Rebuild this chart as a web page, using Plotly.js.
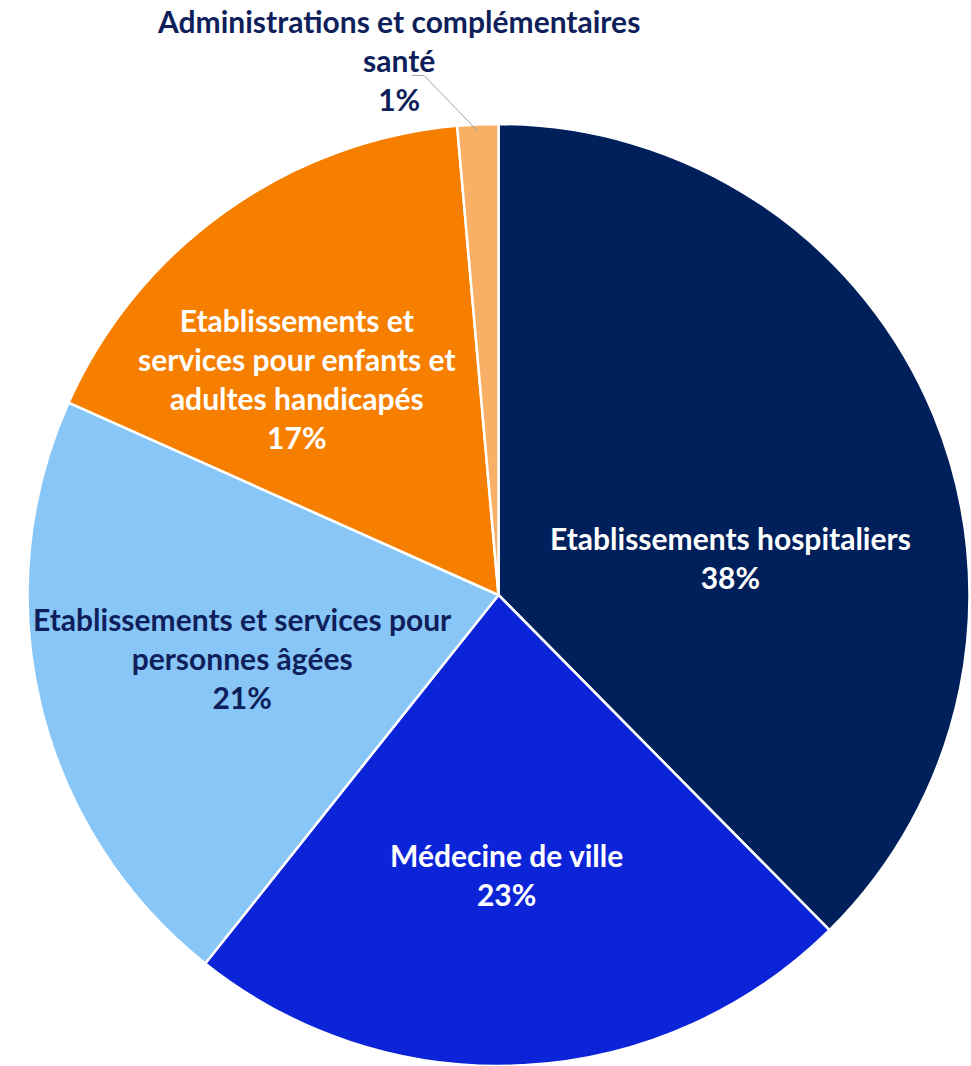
<!DOCTYPE html>
<html>
<head>
<meta charset="utf-8">
<script src="https://cdn.plot.ly/plotly-3.0.1.min.js"></script>
<style>html,body{margin:0;padding:0;background:#fff;}#chart{width:971px;height:1066px;}</style>
</head>
<body>
<div id="chart"></div>
<script>
const categories = [
  "Etablissements hospitaliers",
  "Médecine de ville",
  "Etablissements et services pour personnes âgées",
  "Etablissements et services pour enfants et adultes handicapés",
  "Administrations et complémentaires santé"
];
const displayLabels = [
  "Etablissements hospitaliers",
  "Médecine de ville",
  "Etablissements et services pour<br>personnes âgées",
  "Etablissements et<br>services pour enfants et<br>adultes handicapés",
  "Administrations et complémentaires<br>santé"
];
const shares = [37.6, 23.1, 21.0, 16.9, 1.4];
const sliceColors = ["#00205C", "#0B24D8", "#88C6F8", "#F67F00", "#F9AF65"];
const labelColors = ["#FFFFFF", "#FFFFFF", "#0E1F5B", "#FFFFFF", "#0E1F5B"];
const FONT = "Lato, 'Open Sans', sans-serif";

// plot area geometry (pixels)
const W = 971, H = 1066, M = { l: 26, r: 0, t: 124, b: 0 };
const pw = W - M.l - M.r, ph = H - M.t - M.b;
const R = Math.min(pw, ph) / 2;
const cx = M.l + pw / 2, cy = M.t + ph / 2;
const toPaper = (px, py) => ({ x: (px - M.l) / pw, y: (H - M.b - py) / ph });

// label placement, as pixel offsets from the pie centre (layout, not data)
const labelOffsets = [[232, -38], [8, 280], [-256, 63], [-202, -217], [-100, -535]];

const trace = {
  type: "pie",
  labels: categories,
  values: shares,
  sort: false,
  direction: "clockwise",
  rotation: 0,
  textinfo: "none",
  marker: { colors: sliceColors, line: { color: "#FFFFFF", width: 2.5 } },
  hoverinfo: "label+percent",
  showlegend: false
};

const total = shares.reduce((a, b) => a + b, 0);
const annotations = categories.map((c, i) => {
  const p = toPaper(cx + labelOffsets[i][0], cy + labelOffsets[i][1]);
  return {
    xref: "paper", yref: "paper", x: p.x, y: p.y,
    xanchor: "center", yanchor: "middle", showarrow: false,
    text: displayLabels[i] + "<br>" + Math.round(shares[i] / total * 100) + "%",
    font: { family: FONT, size: 30, color: labelColors[i], weight: "bold" }
  };
});

// leader line for the smallest slice
const before = shares.slice(0, 4).reduce((a, b) => a + b, 0);
const theta = (before + shares[4] / 2) / total * 2 * Math.PI;
const tipX = cx + R * 0.985 * Math.sin(theta);
const tipY = cy - R * 0.985 * Math.cos(theta);
const s = toPaper(tipX - 66, tipY - 56), e = toPaper(tipX - 54, tipY - 56), t = toPaper(tipX, tipY);

const layout = {
  width: W,
  height: H,
  margin: M,
  paper_bgcolor: "#FFFFFF",
  showlegend: false,
  annotations: annotations,
  shapes: [{
    type: "path", xref: "paper", yref: "paper",
    path: `M ${s.x} ${s.y} L ${e.x} ${e.y} L ${t.x} ${t.y}`,
    line: { color: "#A6A6A6", width: 1 }
  }]
};

Plotly.newPlot("chart", [trace], layout, { displayModeBar: false, staticPlot: true });
</script>
</body>
</html>
